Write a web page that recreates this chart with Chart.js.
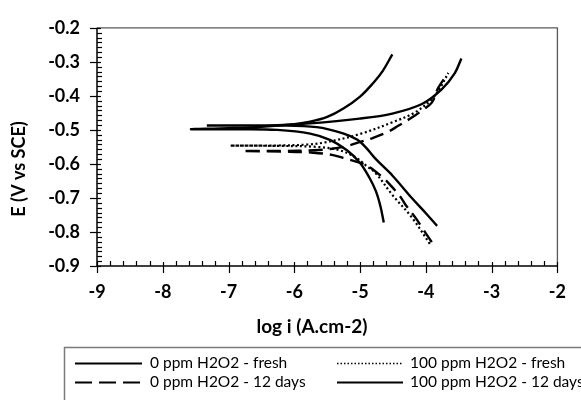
<!DOCTYPE html>
<html><head><meta charset="utf-8">
<script src="https://cdn.jsdelivr.net/npm/chart.js@4.4.1/dist/chart.umd.min.js"></script>
<style>html,body{margin:0;padding:0;background:#fff}#wrap{width:581px;height:400px;position:relative}</style>
</head><body><div id="wrap"><canvas id="c" width="581" height="400"></canvas></div>
<script>
const seriesLabels = ['0 ppm H2O2 - fresh', '100 ppm H2O2 - fresh', '0 ppm H2O2 - 12 days', '100 ppm H2O2 - 12 days'];
const xTickValues = [-9, -8, -7, -6, -5, -4, -3, -2];
const yTickValues = [-0.9, -0.8, -0.7, -0.6, -0.5, -0.4, -0.3, -0.2];
const xTitle = 'log i (A.cm-2)';
const yTitle = 'E (V vs SCE)';

// 0 ppm H2O2 - fresh (cathodic end -> Ecorr -> anodic end)
const fresh0_logi = [-4.64,-4.69,-4.76,-4.86,-5.0,-5.2,-5.45,-5.76,-6.26,-6.8,-7.57,-7.0,-6.5,-6.0,-5.76,-5.5,-5.26,-5.0,-4.8,-4.66,-4.51];
const fresh0_E    = [-0.772,-0.725,-0.680,-0.640,-0.597,-0.560,-0.530,-0.511,-0.500,-0.498,-0.498,-0.495,-0.491,-0.483,-0.476,-0.462,-0.438,-0.402,-0.362,-0.328,-0.278];
// 100 ppm H2O2 - fresh
const fresh100_logi = [-3.94,-4.21,-4.51,-4.76,-4.91,-5.06,-5.31,-5.66,-6.26,-6.97,-6.3,-5.8,-5.51,-5.0,-4.5,-4.16,-3.91,-3.78,-3.66];
const fresh100_E    = [-0.835,-0.758,-0.691,-0.628,-0.605,-0.582,-0.560,-0.550,-0.547,-0.546,-0.546,-0.543,-0.536,-0.512,-0.477,-0.448,-0.410,-0.375,-0.333];
// 0 ppm H2O2 - 12 days
const days0_logi = [-3.91,-4.06,-4.14,-4.31,-4.39,-4.56,-4.66,-4.89,-5.01,-5.26,-5.41,-5.71,-6.2,-6.79,-6.2,-5.7,-5.45,-5.21,-4.96,-4.81,-4.57,-4.42,-4.19,-4.06,-3.91,-3.81,-3.66];
const days0_E    = [-0.830,-0.787,-0.763,-0.720,-0.696,-0.658,-0.639,-0.605,-0.596,-0.582,-0.574,-0.567,-0.564,-0.562,-0.562,-0.560,-0.556,-0.548,-0.533,-0.524,-0.505,-0.488,-0.461,-0.443,-0.420,-0.376,-0.333];
// 100 ppm H2O2 - 12 days
const days100_logi = [-3.83,-4.0,-4.21,-4.51,-4.76,-4.91,-5.04,-5.26,-5.66,-6.26,-6.8,-7.33,-6.8,-6.26,-5.76,-5.01,-4.51,-4.06,-3.76,-3.56,-3.46];
const days100_E    = [-0.782,-0.745,-0.701,-0.634,-0.586,-0.552,-0.529,-0.510,-0.492,-0.487,-0.487,-0.487,-0.487,-0.486,-0.481,-0.467,-0.452,-0.424,-0.381,-0.333,-0.290];

const pts = (xs, ys) => xs.map((v, i) => ({x: v, y: ys[i]}));
const FONT = 'Lato, "Open Sans", sans-serif';

const styles = [
  {borderWidth: 2.4, borderDash: []},
  {borderWidth: 2.2, borderDash: [2, 2.6]},
  {borderWidth: 2.4, borderDash: [14, 7]},
  {borderWidth: 2.4, borderDash: []}
];
const seriesData = [pts(fresh0_logi, fresh0_E), pts(fresh100_logi, fresh100_E), pts(days0_logi, days0_E), pts(days100_logi, days100_E)];

const datasets = seriesData.map((d, i) => ({
  label: seriesLabels[i], data: d, showLine: true, pointRadius: 0, borderColor: '#000',
  backgroundColor: '#000', borderWidth: styles[i].borderWidth, borderDash: styles[i].borderDash,
  tension: 0.35, fill: false
}));

const decor = {
  id: 'decor',
  afterDraw(chart) {
    const {ctx, chartArea: a, scales: {x, y}} = chart;
    ctx.save();
    // frame
    ctx.strokeStyle = '#595959'; ctx.lineWidth = 1.3; ctx.setLineDash([]);
    ctx.beginPath(); ctx.moveTo(a.left, a.top); ctx.lineTo(a.right, a.top); ctx.lineTo(a.right, a.bottom); ctx.stroke();
    ctx.strokeStyle = '#000'; ctx.lineWidth = 1.5;
    ctx.beginPath(); ctx.moveTo(a.left, a.top); ctx.lineTo(a.left, a.bottom); ctx.lineTo(a.right, a.bottom); ctx.stroke();
    // x ticks (major 1, minor 0.2)
    ctx.lineWidth = 1.2;
    for (let i = 0; i <= 35; i++) {
      const px = Math.round(x.getPixelForValue(-9 + i * 0.2)) + 0.5;
      ctx.beginPath();
      if (i % 5 === 0) { ctx.moveTo(px, a.bottom - 4); ctx.lineTo(px, a.bottom + 7); }
      else { ctx.moveTo(px, a.bottom - 5); ctx.lineTo(px, a.bottom); }
      ctx.stroke();
    }
    // y ticks (major 0.1, 6 minor)
    for (let i = 0; i <= 49; i++) {
      const py = Math.round(y.getPixelForValue(-0.9 + i * 0.1 / 7)) + 0.5;
      ctx.beginPath();
      if (i % 7 === 0) { ctx.moveTo(a.left - 7, py); ctx.lineTo(a.left + 4, py); }
      else { ctx.moveTo(a.left, py); ctx.lineTo(a.left + 5, py); }
      ctx.stroke();
    }
    // axis titles
    ctx.fillStyle = '#000';
    ctx.font = 'bold 19px ' + FONT;
    ctx.textAlign = 'center'; ctx.textBaseline = 'middle';
    ctx.fillText(xTitle, 312, 327);
    ctx.font = 'bold 18px ' + FONT;
    ctx.save(); ctx.translate(19, 169); ctx.rotate(-Math.PI / 2); ctx.fillText(yTitle, 0, 0); ctx.restore();
    // legend box
    ctx.strokeStyle = '#7a7a7a'; ctx.lineWidth = 1.5;
    ctx.strokeRect(64.5, 347.5, 600, 100);
    const pos = [[75, 142, 150, 363], [337, 403, 410, 363], [75, 142, 150, 382], [337, 403, 410, 382]];
    ctx.font = '15.5px ' + FONT; ctx.textAlign = 'left';
    chart.data.datasets.forEach((ds, i) => {
      const [x0, x1, tx, ty] = pos[i];
      ctx.strokeStyle = ds.borderColor;
      ctx.lineWidth = i === 1 ? 1.5 : 2;
      ctx.setLineDash(i === 1 ? [1.5, 2] : (i === 2 ? [17, 7] : []));
      ctx.beginPath(); ctx.moveTo(x0, ty + 0.5); ctx.lineTo(x1, ty + 0.5); ctx.stroke();
      ctx.fillText(ds.label, tx, ty);
    });
    ctx.restore();
  }
};

new Chart(document.getElementById('c'), {
  type: 'scatter',
  data: {datasets},
  options: {
    responsive: false, animation: false, devicePixelRatio: 1,
    layout: {padding: {left: 0, right: 18, top: 22, bottom: 54}},
    plugins: {legend: {display: false}, tooltip: {enabled: false}},
    scales: {
      x: {
        type: 'linear', min: -9, max: -2,
        afterBuildTicks: s => { s.ticks = xTickValues.map(v => ({value: v})); },
        afterFit: s => { s.height = 80; },
        ticks: {font: {family: FONT, size: 18, weight: 'bold'}, color: '#000', padding: 15, maxRotation: 0, callback: v => String(v)},
        grid: {display: false, drawTicks: false}, border: {display: false}
      },
      y: {
        type: 'linear', min: -0.9, max: -0.2,
        afterBuildTicks: s => { s.ticks = yTickValues.map(v => ({value: v})); },
        afterFit: s => { s.width = 97; },
        ticks: {font: {family: FONT, size: 18, weight: 'bold'}, color: '#000', padding: 17, callback: v => v.toFixed(1)},
        grid: {display: false, drawTicks: false}, border: {display: false}
      }
    }
  },
  plugins: [decor]
});
</script></body></html>
